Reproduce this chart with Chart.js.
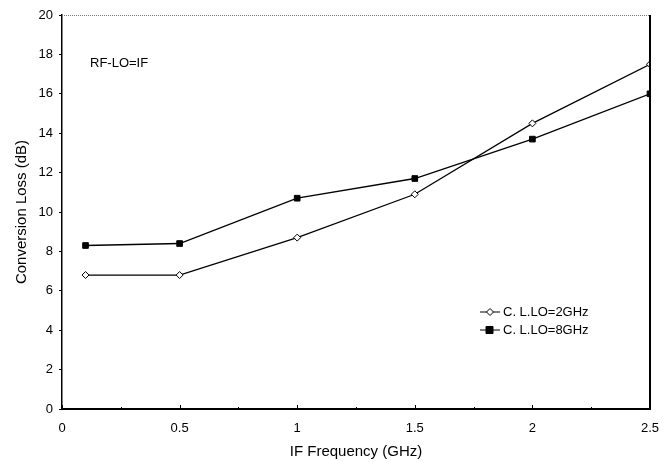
<!DOCTYPE html>
<html>
<head>
<meta charset="utf-8">
<script src="https://cdn.jsdelivr.net/npm/chart.js@4/dist/chart.umd.min.js"></script>
<style>
    html, body { margin: 0; padding: 0; background: #fff; }
    #wrap { width: 664px; height: 462px; }
</style>
</head>
<body>
<div id="wrap"><canvas id="lossChart" width="664" height="462"></canvas></div>
<script>
// DATA
const ifFreq = [0.1, 0.5, 1, 1.5, 2, 2.5];
const lossLo2 = [6.8, 6.8, 8.7, 10.9, 14.5, 17.5];
const lossLo8 = [8.3, 8.4, 10.7, 11.7, 13.7, 16.0];
const seriesNames = ['C. L.LO=2GHz', 'C. L.LO=8GHz'];
const noteText = 'RF-LO=IF';
const xMinorStep = 0.25;

const fontFamily = '"Liberation Sans", Arial, Helvetica, sans-serif';

// frame + inward x ticks + inside legend + note
const framePlugin = {
    id: 'frame',
    afterDraw(chart) {
        const c = chart.ctx;
        const a = chart.chartArea;
        const xs = chart.scales.x;
        c.save();
        // top border, greyish
        c.strokeStyle = '#777';
        c.lineWidth = 1;
        c.setLineDash([1, 1]);
        c.beginPath();
        c.moveTo(a.left, a.top + 0.5);
        c.lineTo(a.right, a.top + 0.5);
        c.stroke();
        c.setLineDash([]);
        // right border, solid
        c.strokeStyle = '#000';
        c.lineWidth = 2;
        c.beginPath();
        c.moveTo(a.right, a.top);
        c.lineTo(a.right, a.bottom);
        c.stroke();

        // x ticks pointing up into the plot
        c.lineWidth = 1;
        for (let v = 0; v <= xs.max + 1e-9; v += xMinorStep) {
            const px = Math.round(xs.getPixelForValue(v)) + 0.5;
            const major = Math.abs(v / 0.5 - Math.round(v / 0.5)) < 1e-6;
            c.beginPath();
            c.moveTo(px, a.bottom);
            c.lineTo(px, a.bottom - (major ? 4 : 2));
            c.stroke();
        }

        // note
        c.fillStyle = '#000';
        c.font = '13px ' + fontFamily;
        c.textBaseline = 'middle';
        c.textAlign = 'left';
        c.fillText(noteText, a.left + 28, a.top + 48);

        // legend
        chart.data.datasets.forEach((ds, i) => {
            const ly = a.top + 297 + i * 18;
            const lx = a.left + 418;
            c.strokeStyle = '#000';
            c.lineWidth = 1;
            c.beginPath();
            c.moveTo(lx, ly);
            c.lineTo(lx + 20, ly);
            c.stroke();
            c.fillStyle = ds.pointBackgroundColor;
            c.beginPath();
            if (ds.pointStyle === 'rect') {
                c.rect(lx + 6, ly - 3.5, 7, 7);
            } else {
                c.moveTo(lx + 10, ly - 3.5);
                c.lineTo(lx + 13.5, ly);
                c.lineTo(lx + 10, ly + 3.5);
                c.lineTo(lx + 6.5, ly);
                c.closePath();
            }
            c.fill();
            c.stroke();
            c.fillStyle = '#000';
            c.font = '13px ' + fontFamily;
            c.fillText(ds.label, lx + 23, ly);
        });
        c.restore();
    }
};

const ctx = document.getElementById('lossChart').getContext('2d');
const lossChart = new Chart(ctx, {
    type: 'line',
    data: {
        datasets: [{
            label: seriesNames[0],
            data: ifFreq.map((f, i) => ({ x: f, y: lossLo2[i] })),
            borderColor: '#000',
            borderWidth: 1.3,
            pointStyle: 'rectRot',
            pointRadius: 3.5,
            pointBackgroundColor: '#fff',
            pointBorderColor: '#000',
            pointBorderWidth: 1,
            tension: 0
        }, {
            label: seriesNames[1],
            data: ifFreq.map((f, i) => ({ x: f, y: lossLo8[i] })),
            borderColor: '#000',
            borderWidth: 1.3,
            pointStyle: 'rect',
            pointRadius: 4,
            pointBackgroundColor: '#000',
            pointBorderColor: '#000',
            pointBorderWidth: 1,
            tension: 0
        }]
    },
    options: {
        responsive: false,
        animation: false,
        layout: { padding: { left: 0, top: 15, right: 14, bottom: 0 } },
        plugins: {
            legend: { display: false },
            tooltip: { enabled: false }
        },
        scales: {
            x: {
                type: 'linear',
                min: 0,
                max: 2.5,
                ticks: {
                    stepSize: 0.5,
                    color: '#000',
                    font: { family: fontFamily, size: 13 },
                    padding: 12,
                    maxRotation: 0,
                    callback: v => String(v)
                },
                grid: { display: true, drawOnChartArea: false, drawTicks: false, color: '#000' },
                border: { display: true, color: '#000', width: 2 },
                title: {
                    display: true,
                    text: 'IF Frequency (GHz)',
                    color: '#000',
                    font: { family: fontFamily, size: 15 },
                    padding: { top: 6, bottom: 1 }
                },
                afterFit: s => { s.height = 53; s.paddingRight = 0; s.paddingLeft = 0; }
            },
            y: {
                min: 0,
                max: 20,
                ticks: {
                    stepSize: 2,
                    color: '#000',
                    font: { family: fontFamily, size: 13 },
                    padding: 6
                },
                grid: { display: true, drawOnChartArea: false, drawTicks: true, tickLength: 3, color: '#000' },
                border: { display: true, color: '#000', width: 1.5 },
                title: {
                    display: true,
                    text: 'Conversion Loss (dB)',
                    color: '#000',
                    font: { family: fontFamily, size: 15 },
                    padding: { top: 13, bottom: 0 }
                },
                afterFit: s => { s.width = 62; }
            }
        }
    },
    plugins: [framePlugin]
});
</script>
</body>
</html>
